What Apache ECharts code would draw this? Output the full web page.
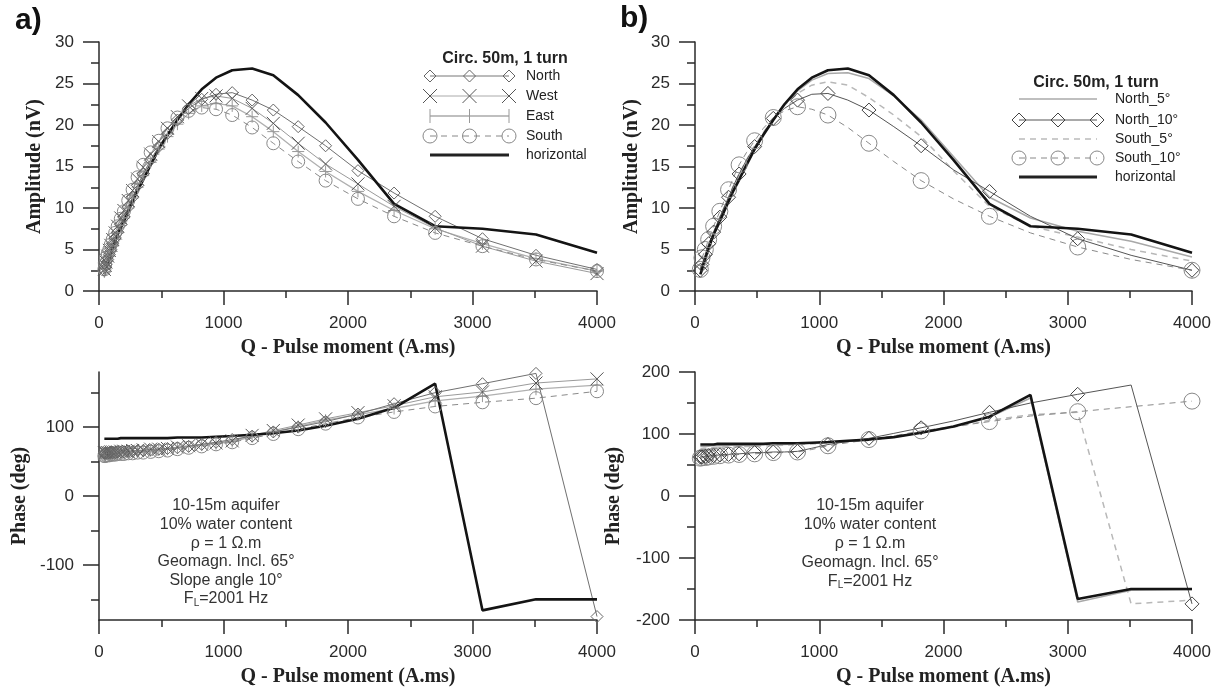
<!DOCTYPE html>
<html><head><meta charset="utf-8">
<script src="https://cdn.jsdelivr.net/npm/echarts@6/dist/echarts.min.js"></script>
<style>html,body{margin:0;padding:0;background:#fff}#c{width:1221px;height:695px}</style>
</head><body><div id="c"></div>
<script>
// Pulse moments (A.ms)
const Q = [43, 50, 56, 70, 83, 95, 110, 130, 150, 175, 200, 235, 270, 310, 355, 415, 480, 550, 630, 720, 825, 940, 1070, 1230, 1400, 1600, 1820, 2080, 2370, 2700, 3080, 3510, 4000];

// Amplitude (nV)
const ampHorizontal = [2.0, 2.3, 2.6, 3.3, 3.9, 4.5, 5.2, 6.0, 6.8, 7.6, 8.4, 9.6, 10.8, 12.1, 13.4, 15.2, 17.1, 18.8, 20.6, 22.5, 24.3, 25.7, 26.6, 26.8, 26.0, 23.6, 20.3, 15.8, 10.5, 7.8, 7.5, 6.8, 4.6];
const ampNorth = [2.5, 2.9, 3.2, 3.8, 4.4, 5.0, 5.7, 6.4, 7.1, 8.0, 8.9, 10.1, 11.3, 12.7, 14.1, 15.8, 17.4, 19.0, 20.6, 22.0, 23.1, 23.7, 23.9, 23.0, 21.8, 19.8, 17.5, 14.5, 11.8, 9.0, 6.3, 4.3, 2.6];
const ampWest = [2.6, 3.1, 3.5, 4.2, 4.9, 5.5, 6.2, 7.0, 7.8, 8.8, 9.7, 10.9, 12.1, 13.5, 14.9, 16.5, 18.0, 19.6, 21.0, 22.3, 23.2, 23.5, 23.2, 22.0, 20.2, 17.8, 15.3, 12.9, 10.2, 7.6, 5.4, 3.6, 2.1];
const ampEast = [2.3, 2.7, 3.0, 3.6, 4.2, 4.8, 5.4, 6.2, 7.0, 7.9, 8.8, 10.0, 11.2, 12.5, 13.9, 15.5, 17.1, 18.6, 20.1, 21.4, 22.3, 22.6, 22.3, 21.0, 19.2, 16.8, 14.4, 12.0, 9.7, 7.5, 5.7, 3.9, 2.4];
const ampSouth = [2.6, 3.3, 4.0, 4.5, 5.0, 5.6, 6.2, 7.0, 7.8, 8.7, 9.6, 10.9, 12.2, 13.7, 15.2, 16.7, 18.1, 19.6, 20.9, 21.7, 22.1, 21.9, 21.2, 19.7, 17.8, 15.6, 13.3, 11.1, 9.0, 7.0, 5.4, 3.8, 2.4];
const ampNorth5 = [2.1, 2.4, 2.8, 3.4, 4.0, 4.6, 5.3, 6.1, 6.9, 7.8, 8.6, 9.8, 11.0, 12.3, 13.7, 15.4, 17.2, 18.9, 20.6, 22.4, 24.1, 25.4, 26.2, 26.3, 25.6, 23.5, 20.6, 16.2, 11.3, 8.8, 7.2, 6.0, 4.1];
const ampNorth10 = [2.5, 2.9, 3.2, 3.8, 4.4, 5.0, 5.7, 6.4, 7.1, 8.0, 8.9, 10.1, 11.3, 12.7, 14.1, 15.8, 17.4, 19.0, 20.8, 22.0, 23.0, 23.7, 23.8, 23.0, 21.8, 19.8, 17.5, 14.6, 12.0, 9.0, 6.3, 4.3, 2.5];
const ampSouth5 = [2.2, 2.6, 3.0, 3.6, 4.2, 4.8, 5.5, 6.3, 7.1, 8.0, 8.9, 10.1, 11.3, 12.7, 14.1, 15.8, 17.5, 19.1, 20.8, 22.4, 23.8, 24.8, 25.2, 24.8, 23.3, 21.2, 18.6, 14.5, 10.2, 7.8, 6.5, 5.0, 3.6];
const ampSouth10 = [2.6, 3.3, 4.0, 4.5, 5.0, 5.6, 6.2, 7.0, 7.8, 8.7, 9.6, 10.9, 12.2, 13.7, 15.2, 16.7, 18.1, 19.6, 20.9, 21.7, 22.2, 21.9, 21.2, 19.7, 17.8, 15.6, 13.3, 11.1, 9.0, 7.0, 5.3, 3.8, 2.5];

// Phase (deg)
const phHorizontal = [83, 83, 83, 83, 83, 83, 83, 83, 83, 84, 84, 84, 84, 84, 84, 84, 84, 84, 85, 85, 85, 86, 87, 89, 91, 95, 102, 112, 128, 163, -166, -150, -150];
const phNorth = [62, 62, 62, 62, 63, 63, 63, 63, 64, 64, 64, 65, 65, 66, 66, 67, 68, 69, 70, 72, 75, 78, 82, 87, 93, 100, 108, 119, 134, 150, 163, 178, -175];
const phWest = [63, 63, 63, 63, 63, 64, 64, 64, 64, 65, 65, 65, 66, 66, 67, 68, 68, 69, 71, 73, 75, 77, 80, 88, 95, 103, 112, 121, 131, 144, 151, 164, 170];
const phEast = [60, 60, 61, 61, 61, 62, 62, 62, 63, 63, 63, 64, 64, 65, 65, 66, 67, 68, 70, 72, 74, 76, 79, 86, 93, 101, 110, 118, 127, 138, 145, 155, 161];
const phSouth = [58, 58, 59, 59, 59, 60, 60, 60, 61, 61, 61, 62, 62, 63, 63, 64, 65, 66, 68, 70, 72, 75, 78, 84, 90, 97, 105, 114, 122, 130, 136, 142, 152];
const phNorth5 = [80, 80, 80, 80, 80, 80, 81, 81, 81, 81, 81, 81, 82, 82, 82, 82, 82, 83, 83, 83, 84, 85, 86, 88, 91, 95, 102, 112, 127, 158, -171, -152, -151];
const phNorth10 = [63, 63, 63, 64, 64, 64, 65, 65, 65, 66, 66, 67, 67, 68, 68, 69, 70, 70, 71, 71, 72, 77, 83, 88, 93, 101, 110, 121, 135, 150, 164, 179, -174];
const phSouth5 = [76, 76, 76, 77, 77, 77, 77, 78, 78, 78, 78, 79, 79, 79, 80, 80, 80, 81, 81, 82, 83, 84, 85, 87, 90, 95, 102, 111, 122, 131, 135, -174, -168];
const phSouth10 = [61, 61, 62, 62, 62, 63, 63, 63, 64, 64, 65, 65, 66, 66, 67, 67, 68, 69, 70, 70, 71, 75, 81, 86, 91, 97, 105, 112, 120, 129, 136, 144, 153];

// Tick labels
const phaseLabelsA = [-100, 0, 100];
const phaseMinorA = [-150, -50, 50, 150];

const legendA = ['North', 'West', 'East', 'South', 'horizontal'];
const legendB = ['North_5°', 'North_10°', 'South_5°', 'South_10°', 'horizontal'];
const notesA = ['10-15m aquifer', '10% water content', 'ρ = 1 Ω.m', 'Geomagn. Incl. 65°', 'Slope angle 10°', 'F_L=2001 Hz'];
const notesB = ['10-15m aquifer', '10% water content', 'ρ = 1 Ω.m', 'Geomagn. Incl. 65°', 'F_L=2001 Hz'];

const SYM_X = 'path://M0,0L10,10M10,0L0,10';
const SYM_P = 'path://M5,0L5,10M0,5L10,5';

const ST = {
  horiz:  {line:'#141414', w:2.6},
  north:  {line:'#707070', w:1, sym:'diamond', size:12, sc:'#666'},
  west:   {line:'#9a9a9a', w:1, sym:SYM_X, size:13, sc:'#555'},
  east:   {line:'#b0b0b0', w:1.3, sym:SYM_P, size:12, sc:'#999'},
  south:  {line:'#8a8a8a', w:1, dash:[6,5], sym:'circle', size:13, sc:'#888'},
  n5:     {line:'#a8a8a8', w:1.5},
  n10:    {line:'#555', w:1, sym:'diamond', size:14, sc:'#444'},
  s5:     {line:'#b8b8b8', w:1.5, dash:[6,5]},
  s10:    {line:'#8a8a8a', w:1, dash:[6,5], sym:'circle', size:16, sc:'#888'}
};

function mk(gi, ys, st, every) {
  return {
    type:'line', xAxisIndex:gi, yAxisIndex:gi, silent:true, animation:false,
    symbolSize: st.size || 0, showSymbol: !!st.sym, symbolKeepAspect:true,
    itemStyle:{color:'transparent', borderColor: st.sc || st.line, borderWidth:1},
    lineStyle:{color:st.line, width:st.w, type: st.dash || 'solid'},
    emphasis:{disabled:true},
    data: Q.map((x,i)=>({value:[x, ys[i]], symbol: st.sym ? ((i % every === 0) ? st.sym : 'none') : 'none'}))
  };
}

const AL = {color:'#2a2a2a', width:1.5};
const nameStyle = {fontFamily:'Liberation Serif', fontWeight:'bold', fontSize:20, color:'#222'};
const labelStyle = {fontFamily:'Liberation Sans', fontSize:17, color:'#2a2a2a'};
const plain = v => String(v);

function xAx(gi) {
  return {type:'value', gridIndex:gi, min:0, max:4000, interval:1000,
    name:'Q - Pulse moment (A.ms)', nameLocation:'middle', nameGap:47, nameTextStyle:nameStyle,
    axisLine:{show:true, onZero:false, lineStyle:AL},
    axisTick:{show:true, length:14, lineStyle:AL},
    minorTick:{show:true, splitNumber:2, length:7, lineStyle:AL},
    axisLabel:Object.assign({margin:24, showMaxLabel:true, showMinLabel:true, formatter:plain}, labelStyle),
    splitLine:{show:false}, minorSplitLine:{show:false}};
}
function yAmp(gi, gap) {
  return {type:'value', gridIndex:gi, min:0, max:30, interval:5,
    name:'Amplitude (nV)', nameLocation:'middle', nameGap:gap, nameTextStyle:nameStyle,
    axisLine:{show:true, onZero:false, lineStyle:AL},
    axisTick:{show:true, length:16, lineStyle:AL},
    minorTick:{show:true, splitNumber:2, length:8, lineStyle:AL},
    axisLabel:Object.assign({margin:25, formatter:plain}, labelStyle),
    splitLine:{show:false}, minorSplitLine:{show:false}};
}

const yAxes = [
  yAmp(0, 54),
  yAmp(1, 53),
  {type:'value', gridIndex:2, min:-180, max:180,
    name:'Phase (deg)', nameLocation:'middle', nameGap:69, nameTextStyle:nameStyle,
    axisLine:{show:true, onZero:false, lineStyle:AL},
    axisTick:{show:true, length:16, lineStyle:AL, customValues:phaseLabelsA},
    axisLabel:Object.assign({margin:25, customValues:phaseLabelsA, formatter:plain}, labelStyle),
    splitLine:{show:false}},
  {type:'value', gridIndex:3, min:-200, max:200, interval:100,
    name:'Phase (deg)', nameLocation:'middle', nameGap:71, nameTextStyle:nameStyle,
    axisLine:{show:true, onZero:false, lineStyle:AL},
    axisTick:{show:true, length:16, lineStyle:AL},
    minorTick:{show:true, splitNumber:2, length:8, lineStyle:AL},
    axisLabel:Object.assign({margin:25, formatter:plain}, labelStyle),
    splitLine:{show:false}, minorSplitLine:{show:false}},
  {type:'value', gridIndex:2, min:-180, max:180, position:'left', offset:0,
    axisLine:{show:false},
    axisTick:{show:true, length:8, lineStyle:AL, customValues:phaseMinorA},
    axisLabel:{show:false}, splitLine:{show:false}}
];

const series = [
  // a) amplitude
  mk(0, ampEast, ST.east, 1), mk(0, ampWest, ST.west, 1), mk(0, ampSouth, ST.south, 1), mk(0, ampNorth, ST.north, 1), mk(0, ampHorizontal, ST.horiz, 1),
  // b) amplitude
  mk(1, ampSouth5, ST.s5, 2), mk(1, ampNorth5, ST.n5, 2), mk(1, ampSouth10, ST.s10, 2), mk(1, ampNorth10, ST.n10, 2), mk(1, ampHorizontal, ST.horiz, 2),
  // a) phase
  mk(2, phEast, ST.east, 1), mk(2, phWest, ST.west, 1), mk(2, phSouth, ST.south, 1), mk(2, phNorth, ST.north, 1), mk(2, phHorizontal, ST.horiz, 1),
  // b) phase
  mk(3, phSouth5, ST.s5, 2), mk(3, phNorth5, ST.n5, 2), mk(3, phSouth10, ST.s10, 2), mk(3, phNorth10, ST.n10, 2), mk(3, phHorizontal, ST.horiz, 2)
];

// ---- graphic: legends, notes, panel labels ----
function sym(kind, x, y, s, stroke) {
  if (kind === 'diamond') return [{type:'polygon', shape:{points:[[x,y-s],[x+s,y],[x,y+s],[x-s,y]]}, style:{fill:'none', stroke, lineWidth:1}}];
  if (kind === 'circle') return [{type:'circle', shape:{cx:x, cy:y, r:s}, style:{fill:'none', stroke, lineWidth:1}}];
  if (kind === 'x') return [{type:'line', shape:{x1:x-s,y1:y-s,x2:x+s,y2:y+s}, style:{stroke, lineWidth:1}},
                            {type:'line', shape:{x1:x-s,y1:y+s,x2:x+s,y2:y-s}, style:{stroke, lineWidth:1}}];
  if (kind === 'plus') return [{type:'line', shape:{x1:x,y1:y-s,x2:x,y2:y+s}, style:{stroke, lineWidth:1}}];
  return [];
}
function legend(x0, x1, ys, tx, titleX, titleY, entries) {
  const els = [{type:'text', style:{text:'Circ. 50m, 1 turn', x:titleX, y:titleY, textAlign:'center', textVerticalAlign:'middle', font:'bold 16px "Liberation Sans"', fill:'#222'}}];
  entries.forEach((e, i) => {
    const y = ys[i];
    els.push({type:'line', shape:{x1:x0, y1:y, x2:x1, y2:y}, style:{stroke:e.c, lineWidth:e.w, lineDash:e.dash || null}});
    if (e.k) [x0, (x0+x1)/2, x1].forEach(x => sym(e.k, x, y, e.s, e.sc).forEach(g => els.push(g)));
    els.push({type:'text', style:{text:e.t, x:tx, y, textVerticalAlign:'middle', font:'14px "Liberation Sans"', fill:'#222'}});
  });
  return els;
}
function notes(cx, y0, dy, lines) {
  return lines.map((t, i) => {
    if (t.indexOf('_') >= 0) {
      const p = t.split('_');
      return {type:'text', style:{text:'{n|' + p[0] + '}{s|' + p[1].charAt(0) + '}{n|' + p[1].slice(1) + '}', x:cx, y:y0 + i*dy, textAlign:'center', textVerticalAlign:'middle',
        rich:{n:{fontSize:16, fontFamily:'Liberation Sans', fill:'#333', color:'#333', lineHeight:18}, s:{fontSize:10, fontFamily:'Liberation Sans', fill:'#333', color:'#333', verticalAlign:'bottom', lineHeight:18}}}};
    }
    return {type:'text', style:{text:t, x:cx, y:y0 + i*dy, textAlign:'center', textVerticalAlign:'middle', font:'16px "Liberation Sans"', fill:'#333'}};
  });
}

const legA = legend(430, 509, [76, 96, 116, 136, 155], 526, 505, 59, [
  {t:legendA[0], c:'#777', w:1, k:'diamond', s:6, sc:'#666'},
  {t:legendA[1], c:'#aaa', w:1, k:'x', s:7, sc:'#555'},
  {t:legendA[2], c:'#aaa', w:1.5, k:'plus', s:7, sc:'#999'},
  {t:legendA[3], c:'#888', w:1, dash:[6,5], k:'circle', s:7, sc:'#888'},
  {t:legendA[4], c:'#222', w:3}
]);
const legB = legend(1019, 1097, [99, 120, 139, 158, 177], 1115, 1096, 83, [
  {t:legendB[0], c:'#aaa', w:1.5},
  {t:legendB[1], c:'#555', w:1, k:'diamond', s:7, sc:'#444'},
  {t:legendB[2], c:'#bbb', w:1.5, dash:[6,5]},
  {t:legendB[3], c:'#888', w:1, dash:[6,5], k:'circle', s:7, sc:'#888'},
  {t:legendB[4], c:'#222', w:3}
]);

const graphic = [].concat(
  [{type:'text', style:{text:'a)', x:15, y:6, font:'bold 30px "Liberation Sans"', fill:'#111'}},
   {type:'text', style:{text:'b)', x:620, y:4, font:'bold 30px "Liberation Sans"', fill:'#111'}}],
  legA, legB,
  notes(226, 506, 18.6, notesA),
  notes(870, 506, 18.8, notesB)
);

const chart = echarts.init(document.getElementById('c'), null, {renderer:'canvas'});
chart.setOption({
  animation:false, backgroundColor:'#fff',
  grid:[
    {left:99, top:42, width:498, height:249},
    {left:695, top:42, width:497, height:249},
    {left:99, top:372, width:498, height:248},
    {left:695, top:372, width:497, height:248}],
  xAxis:[xAx(0), xAx(1), xAx(2), xAx(3)],
  yAxis:yAxes,
  series,
  graphic
});
</script></body></html>
